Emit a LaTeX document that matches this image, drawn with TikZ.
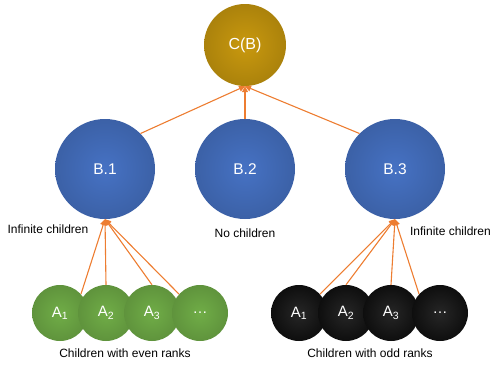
\documentclass[tikz,border=0pt]{standalone}
\usepackage{fontspec}
\setmainfont{Liberation Sans}
\usetikzlibrary{arrows.meta}
\definecolor{goldC}{RGB}{201,153,14}
\definecolor{blueC}{RGB}{70,114,196}
\definecolor{greenC}{RGB}{112,173,71}
\definecolor{blackC}{RGB}{14,14,14}
\definecolor{orangeC}{RGB}{237,125,49}

\begin{document}
\begin{tikzpicture}[x=1pt,y=-1pt,
    root/.style ={circle, minimum size=82pt, inner sep=0pt, text=white,
      shading=radial, inner color=goldC, outer color=goldC!85!black,
      font=\fontsize{16}{19}\selectfont},
    parent/.style ={circle, minimum size=100pt, inner sep=0pt, text=white,
      shading=radial, inner color=blueC, outer color=blueC!85!black,
      font=\fontsize{15.5}{18}\selectfont},
    evenchild/.style ={circle, minimum size=56pt, inner sep=0pt, text=white,
      shading=radial, inner color=greenC, outer color=greenC!85!black,
      font=\fontsize{15}{18}\selectfont},
    oddchild/.style ={circle, minimum size=56pt, inner sep=0pt, text=white,
      shading=radial, inner color=blackC!90!white, outer color=blackC,
      font=\fontsize{15}{18}\selectfont},
    note/.style ={inner sep=0pt, font=\fontsize{12}{14}\selectfont},
    link/.style ={draw=orangeC, line width=1.1pt, -{Triangle[length=6pt,width=6pt]}}]
   \useasboundingbox (0,0) rectangle (492,367);
   % tree
   \node[root] (C) at (245,45) {C(B)};
   \node[parent] (B1) at (105,169) {B.1};
   \node[parent] (B2) at (245,169) {B.2};
   \node[parent] (B3) at (395,169) {B.3};
   % children with even ranks
   \node[evenchild] (E1) at (60,313) {A\textsubscript{1}};
   \node[evenchild] (E2) at (106,313) {A\textsubscript{2}};
   \node[evenchild] (E3) at (152,313) {A\textsubscript{3}};
   \node[evenchild] (E4) at (200,313) {…};
   % children with odd ranks
   \node[oddchild] (O1) at (299,313) {A\textsubscript{1}};
   \node[oddchild] (O2) at (346,313) {A\textsubscript{2}};
   \node[oddchild] (O3) at (391,313) {A\textsubscript{3}};
   \node[oddchild] (O4) at (440,313) {…};
   % notes
   \node[note] (N1) at (48,229) {Infinite children};
   \node[note] (N2) at (245,233) {No children};
   \node[note, anchor=east] (N3) at (491,231) {Infinite children};
   \node[note] (N4) at (125,353) {Children with even ranks};
   \node[note] (N5) at (370,353) {Children with odd ranks};
   % links
   \draw[link] (B1.45) to (C.south);
   \draw[link] (B2.north) to (C.south);
   \draw[link] (B3.135) to (C.south);
   \draw[link] (E1.42) to (B1.south);
   \draw[link] (E2.north) to (B1.south);
   \draw[link] (E3.north) to (B1.south);
   \draw[link] (E4.138) to (B1.south);
   \draw[link] (O1.42) to (B3.south);
   \draw[link] (O2.north) to (B3.south);
   \draw[link] (O3.north) to (B3.south);
   \draw[link] (O4.138) to (B3.south);
\end{tikzpicture}
\end{document}
